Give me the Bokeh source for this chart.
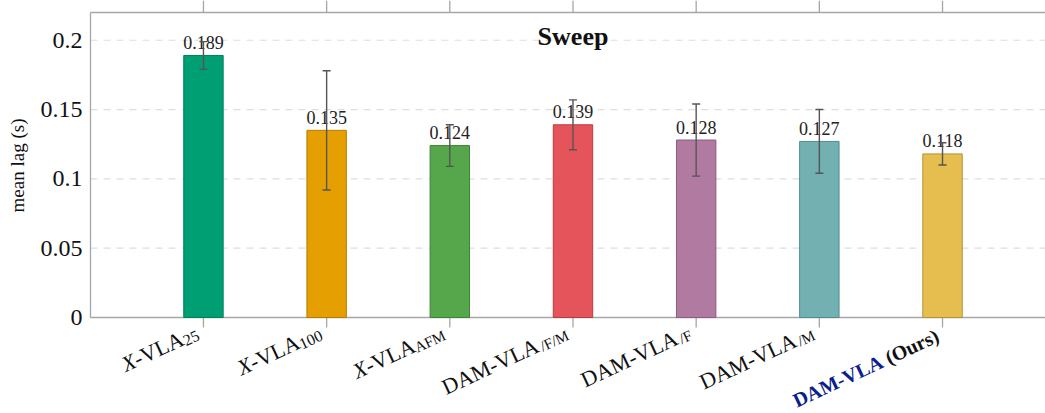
import math
from bokeh.plotting import figure
from bokeh.models import Range1d, Label, Whisker, TeeHead, ColumnDataSource
from bokeh.embed import file_html
from bokeh.resources import INLINE
from bokeh.core.properties import value

# ---------------- data ----------------
label_main = ["X-VLA", "X-VLA", "X-VLA", "DAM-VLA", "DAM-VLA", "DAM-VLA", "DAM-VLA"]
label_sub = ["25", "100", "AFM", "/F/M", "/F", "/M", "(Ours)"]
mean_lag = [0.189, 0.135, 0.124, 0.139, 0.128, 0.127, 0.118]
err = [0.010, 0.043, 0.015, 0.018, 0.026, 0.023, 0.008]
y_ticks = [0, 0.05, 0.1, 0.15, 0.2]
y_tick_labels = ["0", "0.05", "0.1", "0.15", "0.2"]
fills = ["#009E73", "#E69F00", "#56A64C", "#E5545A", "#B07AA1", "#72B0B2", "#E5BE4F"]
lines = ["#00805c", "#b47c00", "#3f8236", "#b73c42", "#8a5c7e", "#4f8c8e", "#b39233"]
title_text = "Sweep"
ylabel = "mean lag (s)"

SERIF = "Liberation Serif"
GRAY = "#a6a6a6"
W, H = 1045, 413
LEFT = 90
X0, X1 = -0.917, 6.836          # plot area (left axis line .. right edge)
Y1 = 0.22
FRAME_TOP, AXIS_Y = 12, 317
PXU_X = (W - LEFT) / (X1 - X0)
PXU_Y = (AXIS_Y - FRAME_TOP) / Y1
XL = X0 - LEFT / PXU_X           # canvas left edge in data units
Y0 = -(H - AXIS_Y) / PXU_Y       # canvas bottom edge in data units
YT = Y1 + FRAME_TOP / PXU_Y      # canvas top edge in data units

xs = list(range(len(mean_lag)))
n = len(xs)
lower = [m - e for m, e in zip(mean_lag, err)]
upper = [m + e for m, e in zip(mean_lag, err)]
src = ColumnDataSource(dict(x=xs, top=mean_lag, lower=lower, upper=upper,
                            fill=fills, line=lines,
                            ty=[v + 13 / PXU_Y for v in mean_lag],
                            txt=["%.3f" % v for v in mean_lag]))

p = figure(width=W, height=H, output_backend="svg", toolbar_location=None,
           x_range=Range1d(XL, X1), y_range=Range1d(Y0, YT),
           x_axis_location=None, y_axis_location=None,
           min_border_left=0, min_border_right=0, min_border_top=0, min_border_bottom=0)
p.outline_line_color = None
p.grid.grid_line_color = None
p.background_fill_color = "white"
p.border_fill_color = "white"

# dashed horizontal grid lines
gy = [t for t in y_ticks if t > 0]
p.segment(x0=[X0] * len(gy), x1=[X1] * len(gy), y0=gy, y1=gy,
          line_color="#dedede", line_width=1.2, line_dash="7 6")

# axis box lines (left, bottom, top) and ticks (bottom, top)
p.segment(x0=[X0, X0, X0], x1=[X0, X1, X1], y0=[0, 0, Y1], y1=[Y1, 0, Y1],
          line_color=GRAY, line_width=1.3)
p.segment(x0=xs, x1=xs, y0=[0] * n, y1=[-10 / PXU_Y] * n, line_color=GRAY, line_width=1.3)
p.segment(x0=xs, x1=xs, y0=[Y1] * n, y1=[YT] * n, line_color=GRAY, line_width=1.3)

# y tick labels and axis title
p.text(x=[X0 - 8 / PXU_X] * len(y_ticks), y=y_ticks, text=y_tick_labels,
       text_align="right", text_baseline="middle", text_font=value(SERIF),
       text_font_size=value("24px"), text_color="#111111")
p.text(x=[XL + 17 / PXU_X], y=[(AXIS_Y - 165) / PXU_Y], text=[ylabel], angle=90,
       angle_units="deg", text_align="center", text_baseline="middle",
       text_font=value(SERIF), text_font_size=value("19px"), text_color="#111111")

# bars
p.vbar(x="x", top="top", width=0.32, bottom=0, fill_color="fill", line_color="line",
       line_width=1, source=src)

# error bars
p.add_layout(Whisker(base="x", lower="lower", upper="upper", source=src, dimension="height",
                     level="overlay", line_color="#555555", line_width=1.4,
                     upper_head=TeeHead(size=8, line_color="#555555", line_width=1.4),
                     lower_head=TeeHead(size=8, line_color="#555555", line_width=1.4)))

# value labels
p.text(x="x", y="ty", text="txt", source=src, text_align="center", text_baseline="alphabetic",
       text_font=value(SERIF), text_font_size=value("18px"), text_color="#222222")

# title
p.add_layout(Label(x=3, y=0.1947 + 11 / PXU_Y, text=title_text, text_align="center",
                   text_baseline="alphabetic",
                   text_font=SERIF, text_font_size="26px", text_font_style="bold",
                   text_color="#111111"))

# ---------- rotated tick labels, built from pieces ----------
ANG = 25.0
c, s = math.cos(math.radians(ANG)), math.sin(math.radians(ANG))
EX, EY = -5.0, -17.0
MAIN_SIZE = 22
OURS_SIZE = 20
sub_w = {"25": 16.0, "100": 24.0, "AFM": 32.5, "/F/M": 30.0, "/F": 12.5, "/M": 17.5,
         "(Ours)": 2.833 * OURS_SIZE}
sub_size = {"25": "16px", "100": "16px", "AFM": "15px", "/F/M": "15px", "/F": "15px", "/M": "15px"}
VLA_W = 2.388 * MAIN_SIZE  # width of "-VLA"


def lab(i, dx, dy, text, align, **kw):
    opts = dict(text_font=SERIF, text_font_size="%dpx" % MAIN_SIZE, text_color="#111111")
    opts.update(kw)
    p.add_layout(Label(x=i + dx / PXU_X, y=dy / PXU_Y, text=text, angle=ANG, angle_units="deg",
                       text_align=align, text_baseline="alphabetic", **opts))


for i, (main, sub) in enumerate(zip(label_main, label_sub)):
    w = sub_w[sub]
    sx, sy = EX - w * c, EY - w * s
    if sub == "(Ours)":
        gap = 5.0
        lab(i, sx, sy, sub, "left", text_font_style="bold", text_font_size="%dpx" % OURS_SIZE)
        lab(i, sx - gap * c, sy - gap * s, main, "right", text_font_style="bold",
            text_font_size="%dpx" % OURS_SIZE, text_color="#0b1f8c")
        continue
    gap = 2.0 if sub.startswith("/") else 0.0
    drop = 4.0
    mx = sx - gap * c - drop * s
    my = sy - gap * s + drop * c
    lab(i, sx, sy, sub, "left", text_font_size=sub_size[sub])
    if main == "X-VLA":
        lab(i, mx, my, "-VLA", "right")
        lab(i, mx - VLA_W * c, my - VLA_W * s, "X", "right", text_font_style="italic")
    else:
        lab(i, mx, my, main, "right")

open("out.html", "w").write(file_html(p, INLINE))
